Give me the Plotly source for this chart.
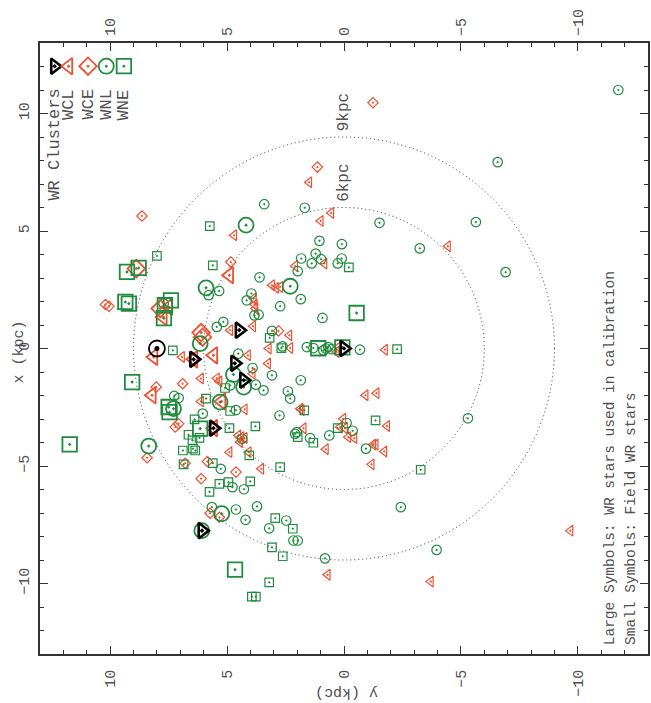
import plotly.graph_objects as go

# ---------------- data (galactic y [kpc], galactic x [kpc]) ----------------
wcl_field = [(4.70,4.82),(1.49,7.07),(0.55,5.77),(1.00,5.43),(-4.44,4.35),(4.87,0.78),(6.93,-0.36),
 (6.12,-1.28),(5.44,-1.27),(5.33,-1.40),(6.12,-2.25),(4.52,-3.70),(4.45,-3.98),(4.90,-4.41),(0.84,3.62),
 (2.09,3.51),(3.08,2.69),(2.91,2.58),(2.73,2.62),(3.86,2.13),(3.82,1.87),(3.79,1.70),(3.89,0.95),
 (2.34,0.56),(2.30,0.02),(3.22,0.00),(0.32,-0.15),(0.24,0.06),(-1.75,-0.05),(4.11,-0.29),(3.25,-0.64),
 (3.91,-1.07),(-0.92,-1.99),(-1.39,-1.90),(1.87,-2.56),(1.81,-2.62),(4.25,-2.59),(-1.84,-3.30),
 (0.03,-2.99),(0.17,-3.34),(-0.04,-3.39),(-0.18,-3.77),(-0.44,-3.81),(1.73,-3.39),(0.78,-4.29),
 (-1.25,-4.09),(-1.35,-4.09),(-1.72,-4.38),(4.25,-3.81),(4.39,-3.77),(4.08,-4.41),(3.54,-5.12),
 (-1.18,-4.93),(0.70,-9.63),(-3.71,-9.92),(-9.68,-7.75)]
wcl_calib = [(4.90,3.12),(7.50,1.77),(7.74,1.34),(8.14,-0.36),(6.43,-0.46),(5.58,-0.29),(8.21,-1.99),
 (5.23,-2.25),(5.58,-3.39)]
wce_field = [(8.64,5.64),(-1.24,10.46),(1.14,7.72),(4.84,3.68),(10.20,1.87),(10.05,1.80),(6.90,-1.50),
 (8.03,-1.64),(7.22,-3.34),(7.07,-3.20),(2.80,0.75),(8.42,-4.65),(6.79,-4.88),(5.84,-4.81),(4.62,-5.26),
 (6.11,-5.54),(5.73,-7.01),(5.33,-7.18)]
wce_calib = [(8.88,3.40),(7.86,1.70),(6.11,0.68),(6.05,0.48)]
wnl_field = [(3.41,6.14),(1.68,5.99),(-1.52,5.35),(1.05,4.58),(0.09,4.44),(-3.24,4.26),(5.79,2.27),
 (5.34,2.45),(4.16,2.05),(7.71,1.91),(5.44,0.92),(5.16,1.13),(4.52,-0.22),(4.87,-1.57),(7.26,-2.02),
 (7.07,-2.11),(6.04,-2.77),(4.62,-2.62),(1.21,4.04),(1.83,3.83),(1.38,3.62),(0.98,3.80),(0.27,3.62),
 (0.10,3.83),(1.98,3.29),(3.61,3.03),(1.85,2.10),(3.96,2.34),(2.73,1.80),(3.83,1.41),(3.65,1.44),
 (0.92,1.30),(3.08,0.75),(2.63,0.09),(1.59,0.06),(1.31,0.02),(0.88,-0.08),(0.78,0.00),(0.67,0.06),
 (0.53,-0.03),(-0.68,-0.05),(3.91,-0.83),(3.08,-1.14),(3.77,-1.54),(3.44,-1.78),(1.85,-1.35),
 (2.40,-1.82),(2.30,-2.13),(2.76,-2.85),(-0.11,-3.17),(-0.37,-3.50),(2.09,-3.63),(2.02,-3.56),
 (1.45,-3.81),(0.63,-3.70),(-0.94,-4.26),(4.36,-3.84),(5.27,-5.12),(4.77,-5.90),(4.28,-5.99),
 (5.65,-6.75),(4.62,-6.85),(4.21,-7.29),(3.72,-6.72),(-2.43,-6.75),(2.47,-7.32),(3.20,-7.65),
 (2.16,-8.17),(1.98,-8.17),(0.81,-8.93),(-3.96,-8.57),(-11.73,11.00),(-6.57,7.93),(-5.64,5.38),
 (-6.91,3.25),(-5.30,-2.97)]
wnl_calib = [(4.19,5.25),(5.90,2.58),(2.30,2.65),(6.15,0.21),(4.73,-1.11),(4.29,-1.64),(5.30,-2.28),
 (7.29,-2.56),(8.35,-4.15),(5.23,-7.03),(6.08,-7.75)]
wne_field = [(5.74,5.21),(8.00,3.94),(5.61,3.54),(7.32,-0.08),(5.09,-1.68),(5.90,-2.13),(4.87,-2.66),
 (6.39,-3.02),(4.90,-3.39),(6.65,-3.67),(6.18,-3.80),(6.48,-3.91),(6.46,-4.26),(6.89,-4.34),(6.36,-4.34),
 (-0.21,3.45),(3.18,0.45),(2.68,0.02),(-2.27,-0.03),(1.70,-2.63),(3.79,-3.31),(-1.35,-3.06),(0.27,-3.39),
 (1.98,-3.77),(1.31,-4.01),(6.86,-4.93),(5.61,-4.88),(5.33,-5.76),(4.94,-5.69),(5.75,-6.10),(4.05,-4.55),
 (2.73,-5.05),(-3.28,-5.16),(4.01,-5.65),(2.94,-7.22),(2.19,-7.67),(3.08,-8.46),(2.62,-8.84),
 (3.20,-9.95),(3.94,-10.56),(3.77,-10.56)]
wne_calib = [(9.28,3.26),(8.78,3.43),(9.35,1.98),(9.20,1.91),(7.40,2.05),(7.66,1.84),(7.70,1.29),
 (9.06,-1.43),(7.50,-2.49),(7.46,-2.71),(6.15,-3.41),(11.73,-4.08),(4.66,-9.41),(-0.54,1.51),
 (1.10,0.01),(0.07,0.05)]
clusters = [(6.43,-0.46),(4.48,0.78),(4.67,-0.63),(4.29,-1.35),(5.58,-3.39),(0.0,0.0),(6.07,-7.75)]
sun = [(8.0, 0.0)]

ring_radii = [6, 9]
ring_labels = ["6kpc", "9kpc"]
tick_vals = [-10, -5, 0, 5, 10]
legend_names = ["WR Clusters", "WCL", "WCE", "WNL", "WNE"]
note_lines = ["Large Symbols: WR stars used in calibration", "Small Symbols: Field WR stars"]

RED = "#EF5030"
GREEN = "#1F8C3E"
BLACK = "#000000"
FONT = "Liberation Mono, Courier New, monospace"
TXT = "#505050"
LINE = "#333333"

fig = go.Figure()

def add(pts, sym, color, size, lw):
    fig.add_trace(go.Scatter(
        x=[p[0] for p in pts], y=[p[1] for p in pts], mode="markers",
        marker=dict(symbol=sym, size=size, color=color, line=dict(color=color, width=lw)),
        showlegend=False, hoverinfo="skip"))

# field (small) symbols
add(wcl_field, "triangle-left-open-dot", RED, 9.5, 1.2)
add(wce_field, "diamond-open-dot", RED, 8, 1.2)
add(wnl_field, "circle-open-dot", GREEN, 9.5, 1.2)
add(wne_field, "square-open-dot", GREEN, 8.5, 1.2)
# calibration (large) symbols
add(wcl_calib, "triangle-left-open-dot", RED, 14.5, 1.8)
add(wce_calib, "diamond-open-dot", RED, 13.5, 1.8)
add(wnl_calib, "circle-open-dot", GREEN, 15, 1.8)
add(wne_calib, "square-open-dot", GREEN, 14.5, 1.8)
# clusters and sun
add(clusters, "triangle-right-open-dot", BLACK, 13.5, 2.6)
add(sun, "circle-open", BLACK, 16, 1.8)
add(sun, "circle", BLACK, 5, 0)

# dummy trace for the top / right axes
fig.add_trace(go.Scatter(x=[0], y=[0], xaxis="x2", yaxis="y2", mode="markers",
                         marker=dict(opacity=0), showlegend=False, hoverinfo="skip"))

# legend symbols on a helper (0..1) axis
leg_x = [0.024, 0.047, 0.079, 0.109, 0.138]
leg_y = 0.962
leg_syms = [("triangle-right-open-dot", BLACK, 13.5, 2.6), ("triangle-left-open-dot", RED, 14.5, 1.8),
            ("diamond-open-dot", RED, 13.5, 1.8), ("circle-open-dot", GREEN, 15, 1.8),
            ("square-open-dot", GREEN, 14.5, 1.8)]
for lx, (sym, col, sz, lw) in zip(leg_x, leg_syms):
    fig.add_trace(go.Scatter(x=[lx], y=[leg_y], xaxis="x3", yaxis="y3", mode="markers",
                             marker=dict(symbol=sym, size=sz, color=col, line=dict(color=col, width=lw)),
                             showlegend=False, hoverinfo="skip"))

for lx, name in zip(leg_x, legend_names):
    fig.add_annotation(xref="paper", yref="paper", x=lx, y=0.928, text=name, textangle=-90,
                       showarrow=False, xanchor="center", yanchor="top",
                       font=dict(family=FONT, size=17, color=TXT))

# rings
for r, lab in zip(ring_radii, ring_labels):
    fig.add_shape(type="circle", xref="x", yref="y", x0=-r, x1=r, y0=-r, y1=r,
                  line=dict(color=LINE, width=1, dash="1px,3px"), layer="below")
    fig.add_annotation(xref="x", yref="y", x=0, y=r + 1.05, text=lab, textangle=-90, showarrow=False,
                       xanchor="center", yanchor="middle", font=dict(family=FONT, size=16, color=TXT))

# notes
for nx, line in zip([0.938, 0.972], note_lines):
    fig.add_annotation(xref="paper", yref="paper", x=nx, y=0.0115, text=line, textangle=-90,
                       showarrow=False, xanchor="center", yanchor="bottom",
                       font=dict(family=FONT, size=14.5, color=TXT))

# axis titles
fig.add_annotation(xref="paper", yref="paper", x=-0.034, y=0.494, text="x (kpc)", textangle=-90,
                   showarrow=False, xanchor="center", yanchor="middle", font=dict(family=FONT, size=15, color=TXT))
fig.add_annotation(xref="paper", yref="paper", x=0.505, y=-0.062, text="y (kpc)", textangle=180,
                   showarrow=False, xanchor="center", yanchor="middle", font=dict(family=FONT, size=15, color=TXT))

minor = dict(ticks="inside", ticklen=4, dtick=1, tick0=0, tickcolor=LINE, tickwidth=1, showgrid=False)
common = dict(showgrid=False, zeroline=False, ticks="inside", ticklen=8, tickwidth=1, tickcolor=LINE,
              tickmode="array", tickvals=tick_vals, tickangle=-90, minor=minor,
              tickfont=dict(family=FONT, size=15, color=TXT))

fig.update_layout(
    width=651, height=703, margin=dict(l=40, r=1, t=43, b=49),
    paper_bgcolor="white", plot_bgcolor="white", showlegend=False,
    xaxis=dict(range=[13, -13], side="bottom", showline=True, mirror=True, linecolor=LINE, linewidth=1.5,
               ticklabelstandoff=8, **common),
    yaxis=dict(range=[-13, 13], side="left", showline=True, mirror=True, linecolor=LINE, linewidth=1.5,
               ticklabelstandoff=3, **common),
    xaxis2=dict(range=[13, -13], side="top", overlaying="x", anchor="y2", showline=False,
                ticklabelstandoff=6, **common),
    yaxis2=dict(range=[-13, 13], side="right", overlaying="y", anchor="x2", showline=False,
                showticklabels=False, **common),
    xaxis3=dict(range=[0, 1], overlaying="x", anchor="y3", visible=False),
    yaxis3=dict(range=[0, 1], overlaying="y", anchor="x3", visible=False),
)

fig.write_html("out.html")
